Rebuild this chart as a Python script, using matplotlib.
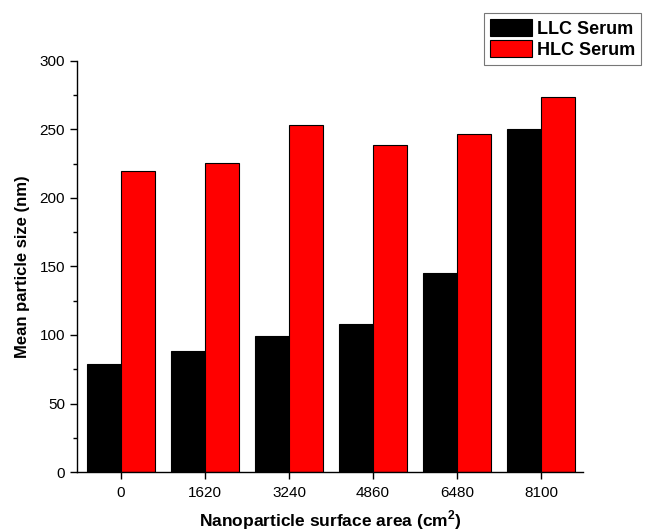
import matplotlib
matplotlib.use("Agg")
import matplotlib.pyplot as plt
import numpy as np
from matplotlib.ticker import MultipleLocator

categories = ["0", "1620", "3240", "4860", "6480", "8100"]
llc = [79, 88, 99.5, 108, 145.5, 250]
hlc = [220, 225.5, 253.5, 239, 246.5, 274]

plt.rcParams['font.family'] = ['Liberation Sans', 'DejaVu Sans']
plt.rcParams['mathtext.fontset'] = 'custom'
plt.rcParams['mathtext.rm'] = 'Liberation Sans'
plt.rcParams['mathtext.bf'] = 'Liberation Sans:bold'

fig = plt.figure(figsize=(6.49, 5.32), dpi=100)
ax = fig.add_axes([77 / 649, 60 / 532, 506 / 649, 411 / 532])

x = np.arange(len(categories))
w = 0.40
ax.bar(x - w / 2, llc, width=w, color='black', edgecolor='black', linewidth=0.8, label='LLC Serum')
ax.bar(x + w / 2, hlc, width=w, color='#ff0000', edgecolor='black', linewidth=0.8, label='HLC Serum')

ax.set_xlim(-0.524, 5.5)
ax.set_ylim(0, 300)
ax.set_xticks(x)
ax.set_xticklabels(categories)
ax.yaxis.set_major_locator(MultipleLocator(50))
ax.yaxis.set_minor_locator(MultipleLocator(25))
ax.tick_params(axis='both', which='major', direction='out', length=5, width=1, labelsize=11)
ax.tick_params(axis='x', pad=5)
ax.tick_params(axis='y', which='minor', direction='out', length=3, width=1)
for s in ['top', 'right']:
    ax.spines[s].set_visible(False)
for s in ['left', 'bottom']:
    ax.spines[s].set_linewidth(1)

ax.set_ylabel('Mean particle size (nm)', fontsize=12, fontweight='bold', labelpad=7)
ax.set_xlabel('Nanoparticle surface area (cm$^{\\mathbf{2}}$)', fontsize=12.5,
              fontweight='bold', labelpad=6)

leg = fig.legend(loc='upper right', bbox_to_anchor=(641 / 649, 1 - 13 / 532),
                 prop={'weight': 'bold', 'size': 13}, frameon=True, fancybox=False,
                 handlelength=2.3, handleheight=1.1, handletextpad=0.28,
                 labelspacing=0.12, borderpad=0.33, borderaxespad=0)
leg.get_frame().set_edgecolor('#555555')
leg.get_frame().set_linewidth(0.8)

fig.savefig('out.png', dpi=100)
